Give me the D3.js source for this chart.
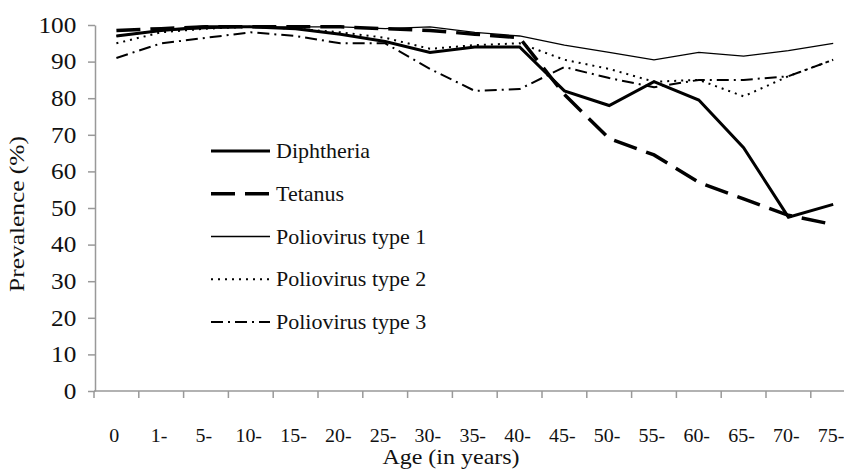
<!DOCTYPE html>
<html lang="en">
<head>
    <meta charset="UTF-8">
    <title>Prevalence by age</title>
    <script src="https://d3js.org/d3.v7.min.js"></script>
    <style>
        body { margin: 0; background: #fff; }
        svg text { font-family: "Times New Roman", "Liberation Serif", Times, serif; fill: #111; }
        .axis path, .axis line { stroke: #999; stroke-width: 1.5px; }
        .series { fill: none; stroke: #000; }
    </style>
</head>
<body>
<div id="chart"></div>
<script>
    // Age groups (x categories)
    const ages = ["0", "1-", "5-", "10-", "15-", "20-", "25-", "30-", "35-", "40-",
                  "45-", "50-", "55-", "60-", "65-", "70-", "75-"];

    // Prevalence (%) per age group
    const diphtheria = [97, 98.5, 99.5, 99.5, 99, 97.5, 95.5, 92.5, 94, 94, 82, 78, 84.5, 79.5, 66.5, 47.5, 51];
    const tetanus    = [98.5, 99, 99.5, 99.5, 99.5, 99.5, 99, 98.5, 97.5, 96.5, 81, 69, 64.5, 57, 52.5, 48, 45.5];
    const polio1     = [97, 98.5, 99, 99.5, 99.5, 99.5, 99, 99.5, 98, 97, 94.5, 92.5, 90.5, 92.5, 91.5, 93, 95];
    const polio2     = [95, 98, 99, 99.5, 99, 98, 96.5, 93.5, 94.5, 95, 90.5, 88, 84.5, 85, 80.5, 86, 90.5];
    const polio3     = [91, 95, 96.5, 98, 97, 95, 95, 88, 82, 82.5, 88.5, 85.5, 83, 85, 85, 86, 90.5];

    const yTicks = [0, 10, 20, 30, 40, 50, 60, 70, 80, 90, 100];

    const seriesNames = ["Diphtheria", "Tetanus", "Poliovirus type 1", "Poliovirus type 2", "Poliovirus type 3"];
    const seriesValues = [diphtheria, tetanus, polio1, polio2, polio3];

    // line style per series: width + dash pattern
    const styles = [
        { width: 3, dash: null },
        { width: 3.5, dash: "24,10" },
        { width: 1.3, dash: null },
        { width: 2, dash: "2,5" },
        { width: 2, dash: "12,5,2,5" }
    ];

    const width = 844, height = 470;
    const svg = d3.select("#chart").append("svg")
        .attr("width", width)
        .attr("height", height);

    // scales
    const x = d3.scaleBand().domain(ages).range([94, 94 + 17 * 44.8]);
    const y = d3.scaleLinear().domain([0, 100]).range([391, 25]);
    const cx = d => x(d) + x.bandwidth() / 2;

    // y axis
    const yAxis = svg.append("g")
        .attr("class", "axis")
        .attr("transform", "translate(95,0)")
        .call(d3.axisLeft(y).tickValues(yTicks).tickSize(7).tickPadding(10).tickSizeOuter(0));
    yAxis.selectAll("text")
        .style("font-size", "23px")
        .attr("transform", "scale(1.1,1)");

    // x axis: labels centred on categories, ticks on band edges
    const xAxis = svg.append("g")
        .attr("class", "axis")
        .attr("transform", "translate(0,391)")
        .call(d3.axisBottom(x).tickSize(0).tickPadding(38).tickSizeOuter(0));
    xAxis.select(".domain").attr("d", `M${x.range()[0]},0H${x.range()[1]}`);
    xAxis.selectAll("text")
        .style("font-size", "19px")
        .attr("x", -2)
        .attr("transform", "scale(1.05,1)");
    xAxis.selectAll(".edge")
        .data(ages)
        .enter().append("line")
        .attr("class", "edge")
        .attr("x1", d => x(d)).attr("x2", d => x(d))
        .attr("y1", 0).attr("y2", 7);

    // axis titles
    svg.append("text")
        .attr("transform", "translate(451,464) scale(1.2,1)")
        .attr("text-anchor", "middle")
        .style("font-size", "20px")
        .text("Age (in years)");

    svg.append("text")
        .attr("transform", "translate(24,214) rotate(-90) scale(1.27,1)")
        .attr("text-anchor", "middle")
        .style("font-size", "20px")
        .text("Prevalence (%)");

    // series lines
    const line = d3.line()
        .x((d, i) => cx(ages[i]))
        .y(d => y(d));

    seriesValues.forEach((vals, i) => {
        svg.append("path")
            .datum(vals)
            .attr("class", "series")
            .attr("d", line)
            .attr("stroke-width", styles[i].width)
            .attr("stroke-dasharray", styles[i].dash);
    });

    // legend
    const legend = svg.append("g");
    const rowY = d3.scalePoint().domain(seriesNames).range([151, 322]);
    seriesNames.forEach((name, i) => {
        const ly = rowY(name);
        legend.append("line")
            .attr("x1", 211).attr("x2", 270)
            .attr("y1", ly).attr("y2", ly)
            .attr("stroke", "#000")
            .attr("stroke-width", styles[i].width)
            .attr("stroke-dasharray", styles[i].dash);
        legend.append("text")
            .attr("transform", `translate(276,${ly + 7}) scale(1.1,1)`)
            .style("font-size", "20px")
            .text(name);
    });
</script>
</body>
</html>
